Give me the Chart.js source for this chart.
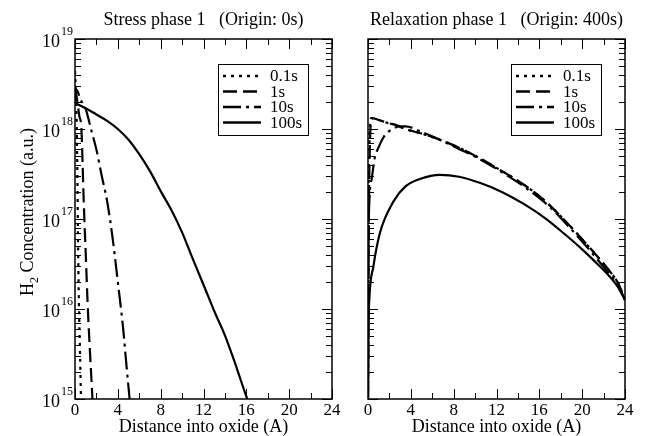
<!DOCTYPE html>
<html>
<head>
<meta charset="utf-8">
<script src="https://cdn.jsdelivr.net/npm/chart.js@4.4.0/dist/chart.umd.min.js"></script>
<style>
  html, body { margin: 0; padding: 0; background: #fff; }
  #wrap { position: relative; width: 655px; height: 436px; }
  .panel { position: absolute; top: 0; height: 436px; }
</style>
</head>
<body>
<div id="wrap">
  <div class="panel" style="left:0;width:350px"><canvas id="stressChart"></canvas></div>
  <div class="panel" style="left:330px;width:325px"><canvas id="relaxChart"></canvas></div>
</div>
<script>
// ===== DATA =====
const seriesLabels = ['0.1s', '1s', '10s', '100s'];
const xTicks = [0, 4, 8, 12, 16, 20, 24];
const yDecades = [15, 16, 17, 18, 19];

// Stress phase 1 (Origin: 0s)
const stressX_01 = [0, 0.1, 0.18, 0.24, 0.28, 0.33, 0.4, 0.47, 0.56];
const stressC_01 = [4.4e18, 2.24e18, 7.9e17, 2.0e17, 6.3e16, 2.0e16, 7.1e15, 3.2e15, 1.0e15];
const stressX_1 = [0, 0.2, 0.4, 0.6, 0.7, 0.8, 0.9, 1.0, 1.1, 1.25, 1.4, 1.56, 1.63];
const stressC_1 = [2.8e18, 2.1e18, 1.4e18, 1.0e18, 4.5e17, 1.78e17, 8.3e16, 4.2e16, 2.0e16, 7.4e15, 3.3e15, 1.45e15, 1.0e15];
const stressX_10 = [0, 0.16, 0.5, 1.0, 1.56, 2.0, 2.5, 3.0, 3.5, 4.0, 4.5, 4.8, 5.1];
const stressC_10 = [2.0e18, 2.7e18, 2.14e18, 1.66e18, 9.3e17, 5.9e17, 3.0e17, 1.58e17, 6.3e16, 2.0e16, 6.0e15, 2.4e15, 1.0e15];
const stressX_100 = [0, 1, 2, 3, 4, 5, 6, 7, 8, 9, 10, 11, 12, 13, 14, 15, 16, 16.1];
const stressC_100 = [1.95e18, 1.70e18, 1.45e18, 1.23e18, 1.0e18, 7.6e17, 5.25e17, 3.4e17, 2.04e17, 1.26e17,
                     7.1e16, 3.6e16, 1.86e16, 9.5e15, 5.1e15, 2.4e15, 1.07e15, 1.0e15];

// Relaxation phase 1 (Origin: 400s)
const relaxX_01 = [0, 0.05, 0.15, 0.3, 1.0, 1.8, 2.7, 3.5, 5, 6.7, 8.5, 10.2, 12, 13.9, 15.5, 17, 18.8, 20.7, 22.6, 23.4, 24];
const relaxC_01 = [1.0e15, 1.0e17, 7.9e17, 1.32e18, 1.26e18, 1.17e18, 1.1e18, 1.0e18, 8.9e17, 7.6e17, 6.2e17,
                   4.9e17, 3.7e17, 2.7e17, 2.0e17, 1.41e17, 8.5e16, 4.8e16, 2.6e16, 1.9e16, 1.26e16];
const relaxX_1 = [0, 0.08, 0.2, 0.35, 1.0, 1.8, 2.7, 3.5, 5, 6.7, 8.5, 10.2, 12, 13.9, 15.5, 17, 18.8, 20.7, 22.6, 23.4, 24];
const relaxC_1 = [1.0e15, 1.0e17, 7.9e17, 1.32e18, 1.26e18, 1.17e18, 1.1e18, 1.0e18, 8.9e17, 7.6e17, 6.2e17,
                  4.9e17, 3.7e17, 2.7e17, 2.0e17, 1.41e17, 8.5e16, 4.8e16, 2.6e16, 1.9e16, 1.26e16];
const relaxX_10 = [0, 0.05, 0.15, 0.35, 0.6, 1.0, 1.45, 2.0, 3.0, 3.5, 5, 6.7, 8.5, 10.2, 12, 13.9, 15.5, 17, 18.8, 20.7, 22.6, 23.4, 24];
const relaxC_10 = [1.0e15, 4.0e16, 1.78e17, 2.8e17, 4.6e17, 6.3e17, 8.1e17, 9.5e17, 1.07e18, 1.07e18, 9.3e17,
                   7.6e17, 6.0e17, 4.8e17, 3.6e17, 2.6e17, 1.9e17, 1.35e17, 8.1e16, 4.5e16, 2.4e16, 1.8e16, 1.26e16];
const relaxX_100 = [0, 0.02, 0.05, 0.12, 0.5, 1.1, 2.4, 3.5, 4.9, 6.7, 8.5, 10.5, 12.5, 14.5, 16.5, 18.3, 20, 21.5, 22.5, 23.3, 24];
const relaxC_100 = [1.0e15, 1.6e15, 6.3e15, 1.26e16, 2.95e16, 6.9e16, 1.58e17, 2.3e17, 2.8e17, 3.1e17, 2.95e17,
                    2.51e17, 2.0e17, 1.48e17, 1.03e17, 6.9e16, 4.6e16, 3.1e16, 2.34e16, 1.78e16, 1.26e16];

// ===== STYLE =====
const FONT = "'Liberation Serif', 'Times New Roman', serif";
const dashes = [[3, 5], [14, 6], [18, 5, 3, 5], []];

function toPoints(xs, cs) { return xs.map((x, i) => ({ x: x, y: cs[i] })); }

function makeDatasets(sets) {
    return sets.map((s, i) => ({
        label: seriesLabels[i],
        data: toPoints(s[0], s[1]),
        borderColor: '#000',
        borderWidth: 2.2,
        borderDash: dashes[i],
        pointRadius: 0,
        cubicInterpolationMode: 'monotone',
        fill: false
    }));
}

// ===== PLUGINS =====
// inward ticks on all four sides + frame
const framePlugin = {
    id: 'frame',
    afterDatasetsDraw(chart) {
        const { ctx, chartArea: a, scales: { x, y } } = chart;
        ctx.save();
        ctx.strokeStyle = '#000';
        ctx.lineWidth = 1;
        ctx.beginPath();
        for (let v = x.min; v <= x.max + 1e-9; v += 2) {
            const px = Math.round(x.getPixelForValue(v)) + 0.5;
            const len = xTicks.includes(v) ? 10 : 6;
            ctx.moveTo(px, a.bottom); ctx.lineTo(px, a.bottom - len);
            ctx.moveTo(px, a.top); ctx.lineTo(px, a.top + len);
        }
        yDecades.forEach(e => {
            for (let m = 1; m <= 9; m++) {
                const v = m * Math.pow(10, e);
                if (v > y.max * 1.0001) break;
                const py = Math.round(y.getPixelForValue(v)) + 0.5;
                const len = m === 1 ? 10 : 6;
                ctx.moveTo(a.left, py); ctx.lineTo(a.left + len, py);
                ctx.moveTo(a.right, py); ctx.lineTo(a.right - len, py);
            }
        });
        ctx.stroke();
        ctx.lineWidth = 1.5;
        ctx.strokeRect(a.left, a.top, a.width, a.height);
        ctx.restore();
    }
};

// boxed legend with line samples
const boxLegend = {
    id: 'boxLegend',
    afterDraw(chart) {
        const { ctx, chartArea: a } = chart;
        const bx = a.left + 143, by = a.top + 25, bw = 90, bh = 71;
        ctx.save();
        ctx.fillStyle = '#fff';
        ctx.fillRect(bx, by, bw, bh);
        ctx.strokeStyle = '#000';
        ctx.lineWidth = 1;
        ctx.strokeRect(bx + 0.5, by + 0.5, bw, bh);
        chart.data.datasets.forEach((ds, i) => {
            const yy = by + 12 + 15.5 * i;
            ctx.setLineDash(ds.borderDash);
            ctx.lineWidth = 2.5;
            ctx.beginPath();
            ctx.moveTo(bx + 5, yy); ctx.lineTo(bx + 43, yy);
            ctx.stroke();
            ctx.setLineDash([]);
            ctx.fillStyle = '#000';
            ctx.font = '17px ' + FONT;
            ctx.textAlign = 'left';
            ctx.textBaseline = 'middle';
            ctx.fillText(ds.label, bx + 52, yy + 1);
        });
        ctx.restore();
    }
};

// 10^n labels and y title (left panel only)
const yLabels = {
    id: 'yLabels',
    afterDraw(chart, args, opts) {
        if (!opts.show) return;
        const { ctx, chartArea: a, scales: { y } } = chart;
        ctx.save();
        ctx.fillStyle = '#000';
        y.ticks.forEach(t => {
            const py = y.getPixelForValue(t.value);
            const e = Math.round(Math.log10(t.value));
            ctx.font = '18px ' + FONT;
            ctx.textAlign = 'right';
            ctx.textBaseline = 'middle';
            ctx.fillText('10', a.left - 15, py + 3);
            ctx.font = '12px ' + FONT;
            ctx.textAlign = 'left';
            ctx.fillText(String(e), a.left - 14, py - 7);
        });
        // rotated axis title with subscript
        ctx.translate(33, 296);
        ctx.rotate(-Math.PI / 2);
        ctx.textAlign = 'left';
        ctx.textBaseline = 'alphabetic';
        ctx.font = '18px ' + FONT;
        ctx.fillText('H', 0, 0);
        let w = ctx.measureText('H').width;
        ctx.font = '12px ' + FONT;
        ctx.fillText('2', w, 5);
        w += ctx.measureText('2').width;
        ctx.font = '18px ' + FONT;
        ctx.fillText(' Concentration (a.u.)', w, 0);
        ctx.restore();
    }
};

// ===== CHARTS =====
function makeChart(id, titleText, sets, yWidth, padRight, showY) {
    return new Chart(document.getElementById(id).getContext('2d'), {
        type: 'line',
        data: { datasets: makeDatasets(sets) },
        options: {
            responsive: true,
            maintainAspectRatio: false,
            animation: false,
            layout: { padding: { left: 0, right: padRight, top: 0, bottom: 0 } },
            plugins: {
                legend: { display: false },
                tooltip: { enabled: false },
                title: {
                    display: true, text: titleText, color: '#000', fullSize: false,
                    font: { family: FONT, size: 18, weight: 'normal', lineHeight: 1.2 },
                    padding: { top: 9, bottom: 8.4 }
                },
                yLabels: { show: showY }
            },
            scales: {
                x: {
                    type: 'linear', min: 0, max: 24,
                    afterBuildTicks: s => { s.ticks = xTicks.map(v => ({ value: v })); },
                    ticks: { color: '#000', font: { family: FONT, size: 17 }, padding: 1, maxRotation: 0 },
                    grid: { display: false, drawTicks: false },
                    border: { display: false },
                    title: {
                        display: true, text: 'Distance into oxide (A)', color: '#000',
                        font: { family: FONT, size: 18, lineHeight: 1 }, padding: 0
                    },
                    afterFit: s => { s.height = 37; }
                },
                y: {
                    type: 'logarithmic', min: 1e15, max: 1e19,
                    afterBuildTicks: s => { s.ticks = yDecades.map(e => ({ value: Math.pow(10, e), major: true })); },
                    ticks: { display: false },
                    grid: { display: false, drawTicks: false },
                    border: { display: false },
                    afterFit: s => { s.width = yWidth; }
                }
            }
        },
        plugins: [framePlugin, boxLegend, yLabels]
    });
}

makeChart('stressChart', 'Stress phase 1   (Origin: 0s)',
    [[stressX_01, stressC_01], [stressX_1, stressC_1], [stressX_10, stressC_10], [stressX_100, stressC_100]],
    75, 18, true);

makeChart('relaxChart', 'Relaxation phase 1   (Origin: 400s)',
    [[relaxX_01, relaxC_01], [relaxX_1, relaxC_1], [relaxX_10, relaxC_10], [relaxX_100, relaxC_100]],
    38, 30, false);
</script>
</body>
</html>
